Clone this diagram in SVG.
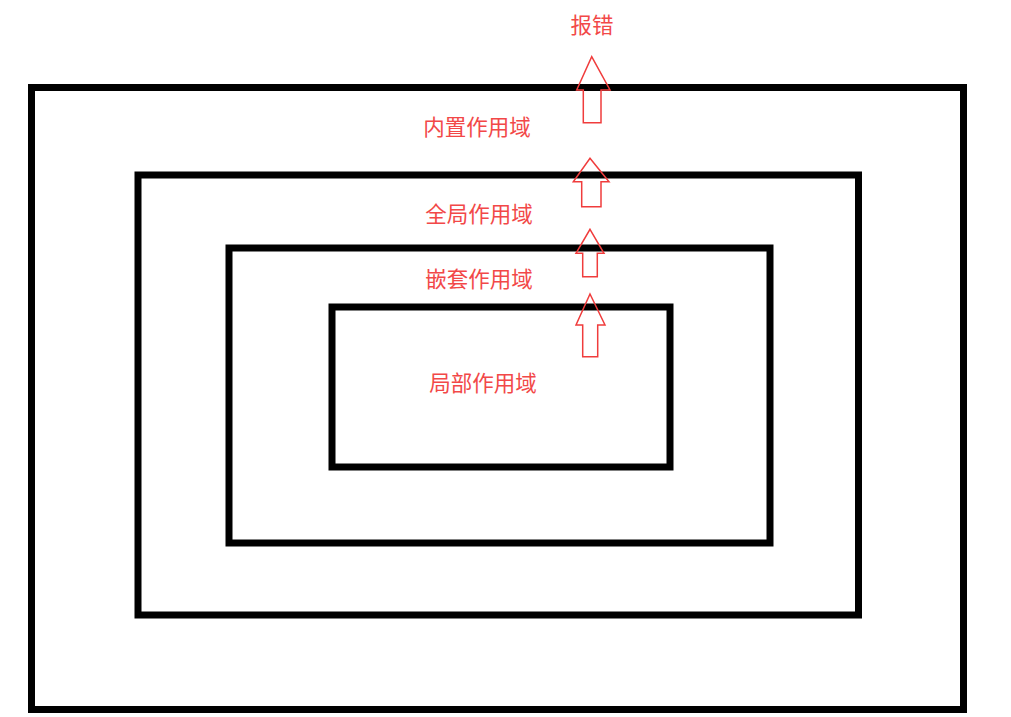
<svg xmlns="http://www.w3.org/2000/svg" width="1011" height="717" viewBox="0 0 1011 717">
<style>
.box{fill:none;stroke:#000;stroke-width:7}
.lbl{font-family:"Noto Sans CJK SC","Noto Sans",sans-serif;font-size:21.5px;fill:#f24848;text-anchor:middle}
.arr{fill:none;stroke:#f03c3c;stroke-width:1.5;stroke-linejoin:miter}
</style>
<rect width="1011" height="717" fill="#fff"/>
<g id="builtin">
<rect class="box" x="31.5" y="87.5" width="932" height="622"/>
<text class="lbl" x="477" y="135">内置作用域</text>
</g>
<g id="global">
<rect class="box" x="138" y="175" width="720.5" height="440"/>
<text class="lbl" x="479" y="221.5">全局作用域</text>
</g>
<g id="enclosing">
<rect class="box" x="229" y="248" width="541" height="295"/>
<text class="lbl" x="479" y="287">嵌套作用域</text>
</g>
<g id="local">
<rect class="box" x="332" y="307" width="338" height="160"/>
<text class="lbl" x="483" y="391">局部作用域</text>
</g>
<g id="error">
<text class="lbl" x="592" y="32.5">报错</text>
</g>
<g id="connectors">
<path class="arr" d="M591.7,56.7 L610,90 L601,90 L601,122.7 L583.3,122.7 L583.3,90 L576.7,90 Z"/>
<path class="arr" d="M590,158.3 L609,181.7 L601,181.7 L601,206.7 L581.7,206.7 L581.7,181.7 L573.3,181.7 Z"/>
<path class="arr" d="M590,229.3 L604,253.3 L597.3,253.3 L597.3,276.7 L582.7,276.7 L582.7,253.3 L576,253.3 Z"/>
<path class="arr" d="M590,294 L605,325 L597.7,325 L597.7,356.7 L582.7,356.7 L582.7,325 L576,325 Z"/>
</g>
</svg>
